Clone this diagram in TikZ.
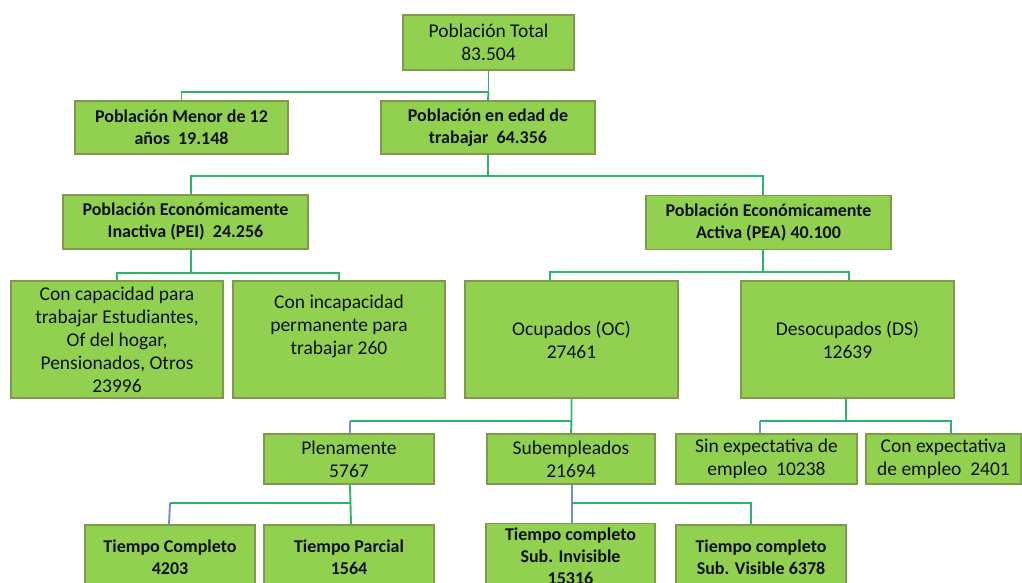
\documentclass[tikz,border=0pt]{standalone}
\usepackage{fontspec}
\setmainfont{Carlito}
\definecolor{boxfill}{HTML}{92D050}
\definecolor{boxline}{HTML}{7E9A4A}
\definecolor{connG}{HTML}{2DB36A}
\definecolor{connB}{HTML}{6F8FD0}
\definecolor{txt}{HTML}{111111}
\tikzset{
  bx/.style={draw=boxline, fill=boxfill, line width=1.6pt, inner sep=0pt, align=center, text=txt, anchor=center},
  big/.style={bx, font=\fontsize{19.5}{23}\selectfont},
  sml/.style={bx, font=\bfseries\fontsize{18}{22}\selectfont},
  conn/.style={draw=connG, line width=1.9pt},
  connb/.style={draw=connB, line width=1.9pt}
}
\begin{document}
\begin{tikzpicture}[x=1pt,y=-1pt]
\useasboundingbox (0,0) rectangle (1022,583);
% level 1
\node[big, minimum width=171pt, minimum height=55pt] (tot) at (488.5,42.5) {Población Total\\83.504};
% level 2
\node[sml, minimum width=213pt, minimum height=53pt] (men) at (181.5,127.5) {Población Menor de 12\\años\ \ 19.148};
\node[sml, minimum width=214pt, minimum height=53pt] (eda) at (488,127.5) {Población en edad de\\trabajar\ \ 64.356};
% level 3
\node[sml, minimum width=245pt, minimum height=54pt] (pei) at (185.5,222) {Población Económicamente\\Inactiva (PEI)\ \ 24.256};
\node[sml, minimum width=245pt, minimum height=54pt] (pea) at (768.5,222.5) {Población Económicamente\\Activa (PEA) 40.100};
% level 4
\node[big, minimum width=212pt, minimum height=117pt] (cap) at (117,339.5) {Con capacidad para\\trabajar Estudiantes,\\Of del hogar,\\Pensionados, Otros\\23996};
\node[big, minimum width=212pt, minimum height=117pt] (inc) at (339,339.5) {Con incapacidad\\permanente para\\trabajar 260\\\strut};
\node[big, minimum width=213pt, minimum height=117pt] (ocu) at (571.5,339.5) {Ocupados (OC)\\27461};
\node[big, minimum width=213pt, minimum height=117pt] (des) at (847.5,339.5) {Desocupados (DS)\\12639};
% level 5
\node[big, minimum width=170pt, minimum height=50pt] (ple) at (349,459) {Plenamente\\5767};
\node[big, minimum width=168pt, minimum height=50pt] (sub) at (571,459) {Subempleados\\21694};
\node[big, minimum width=181pt, minimum height=50pt] (sin) at (766.5,459) {Sin expectativa de\\empleo\ \ 10238};
\node[big, minimum width=155pt, minimum height=50pt] (con) at (943.5,459) {Con expectativa\\de empleo\ \ 2401};
% level 6
\node[sml, minimum width=170pt, minimum height=65pt] (tc) at (170,557.5) {Tiempo Completo\\4203};
\node[sml, minimum width=170pt, minimum height=65pt] (tp) at (349,557.5) {Tiempo Parcial\\1564};
\node[sml, minimum width=169pt, minimum height=65pt] (inv) at (570.5,556) {Tiempo completo\\Sub. Invisible\\15316};
\node[sml, minimum width=170pt, minimum height=65pt] (vis) at (761,557.5) {Tiempo completo\\Sub. Visible 6378};
% connectors
\draw[conn] (tot.south) -- ++(0,21) coordinate (j1) -| (men.north);
\draw[conn] (j1) -- (eda.north);
\draw[conn] (eda.south) -- ++(0,21) coordinate (j2) -| ([xshift=5.5pt]pei.north);
\draw[conn] (j2) -| ([xshift=-5.5pt]pea.north);
\draw[conn] ([xshift=5.5pt]pei.south) -- ++(0,23) coordinate (j3) -| (cap.north);
\draw[conn] (j3) -| (inc.north);
\draw[conn] ([xshift=-5.5pt]pea.south) -- ++(0,22) coordinate (j4) -| ([xshift=-21.5pt]ocu.north);
\draw[conn] (j4) -| ([xshift=1.5pt]des.north);
\draw[conn] (ocu.south) -- ++(0,22) coordinate (j5) -- (sub.north);
\draw[conn] (j5) -| ([xshift=1pt]ple.north |- j5);
\draw[connb] ([xshift=1pt]ple.north |- j5) -- ([xshift=1pt]ple.north);
\draw[conn] ([xshift=-1.5pt]des.south) -- ++(0,22) coordinate (j6) -| ([xshift=7.5pt]con.north);
\draw[conn] (j6) -- ([xshift=-6.5pt]sin.north |- j6);
\draw[connb] ([xshift=-6.5pt]sin.north |- j6) -- ([xshift=-6.5pt]sin.north);
\draw[conn] ([xshift=1pt]ple.south) -- ([xshift=2pt]tp.north);
\draw[conn] ([xshift=1pt]ple.south |- 0,503) coordinate (j7) -- (tc.north |- j7);
\draw[connb] (tc.north |- j7) -- ([xshift=-1pt]tc.north);
\draw[connb] ([xshift=1pt]sub.south) -- ([xshift=1.5pt]inv.north);
\draw[conn] ([xshift=1pt]sub.south |- 0,503) coordinate (j8) -| ([xshift=-10pt]vis.north);
\end{tikzpicture}
\end{document}
